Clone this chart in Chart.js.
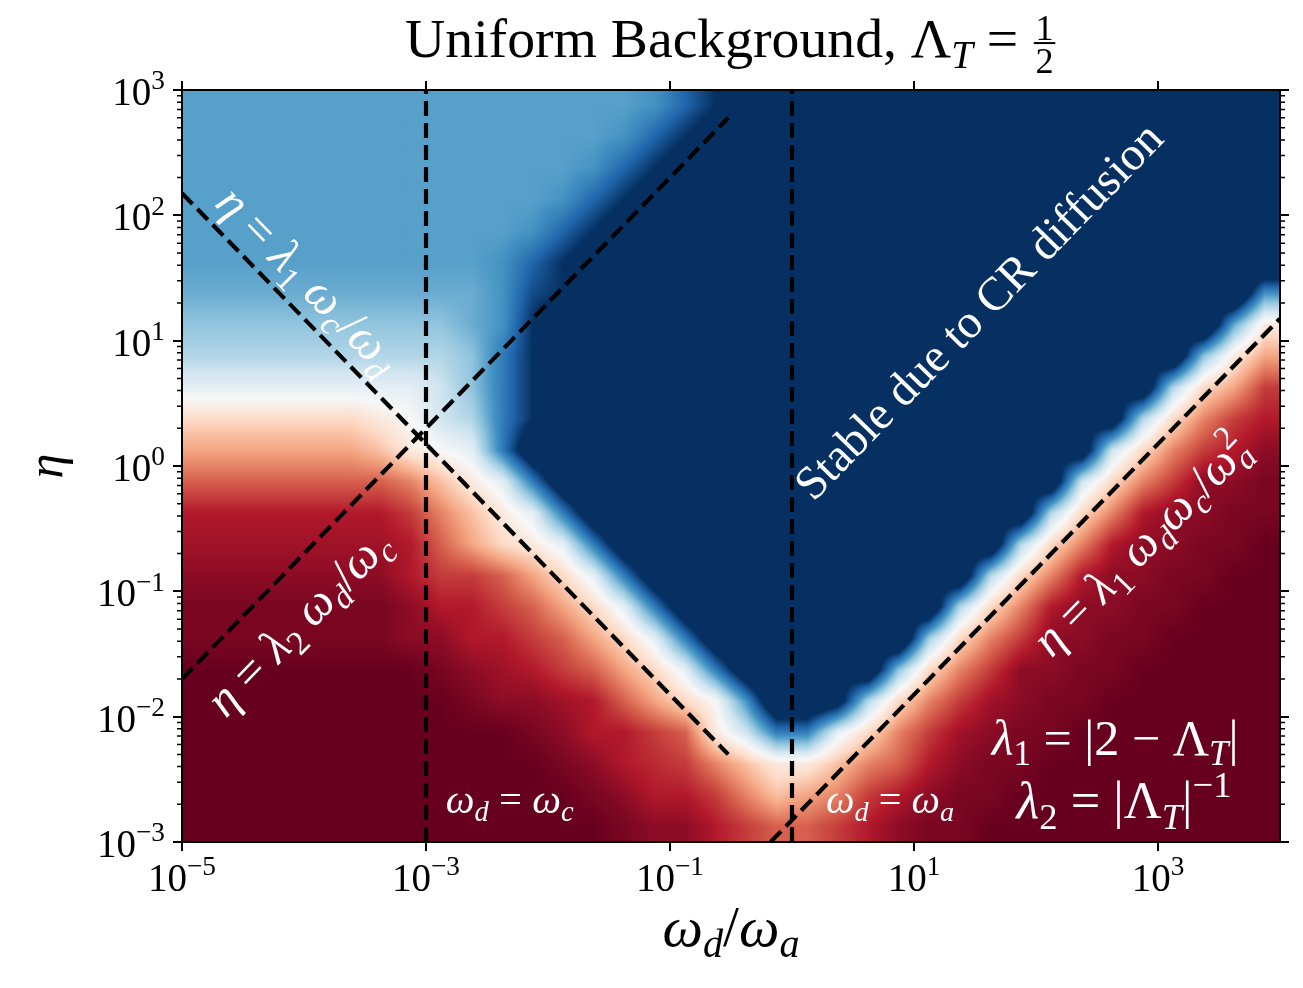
<!DOCTYPE html>
<html>
<head>
<meta charset="utf-8">
<title>Uniform Background</title>
<script src="https://cdn.jsdelivr.net/npm/chart.js@4.4.1/dist/chart.umd.min.js"></script>
<style>
  html, body { margin: 0; padding: 0; background: #fff; }
  #plot { display: block; }
</style>
</head>
<body>
<canvas id="plot" width="1303" height="988"></canvas>
<script>
// colour grid, quarter-decade cells, top row is eta = 1e3.
// A = deep red, K = white, U = deep blue; a lower-case letter is half a step above its capital.
// V..Z sit past the saturated blue, so the edge of the dark region falls where the figure has it.
// each row is run-length written: "15p" means fifteen cells of p
const gridX = [1e-5, 1e4];
const gridY = [1e-3, 1e3];
const levelRows = [
  '15p QSUW 17U',
  '14p QSUW 18U',
  '13p QSUW 19U',
  '12p QSUW 20U',
  '11p QSUW 21U',
  '10p QSUW 21U Z',
  '10P QTUW 20U ZQ',
  '9O PQUX 20U ZPJ',
  '9N ORUX 19U YOJG',
  '8L MORUX 18U xNIGD',
  '6I JKMNRUX 17U XNIFDC',
  '6G HJKLRXZ 16U XMIFDCB',
  '7E FHJLRXZ 14U xMIFDBBa',
  '7C DFHJLRXZ 12U YNIFCBBaa',
  '7b CEGIJLRXZ 10U YNIFCBBaaA',
  '7B CDDEGILRXZ 8U YNIFCBBaaAA',
  '7a BCCDEGILRXZ 6U YNIFCBBaa 3A',
  '7a BBCCDEGILRXZ 4U ZnIFDBBaa 4A',
  '8A aBbCDEGILRXZ 2U YOIFDBBaa 5A',
  '9A aBBbCEGIKQYYWNIFDbBaa 6A',
  '11A aBCCDEJMRRLIFDbBaa 7A',
  '12A aBCcDFHJJHFECBaa 8A',
  '13A aBCCDFHGFDCBaa 9A',
  '14A aBBCDEEDCBaa 10A'
];

const xTicks = [1e-5, 1e-3, 1e-1, 1e1, 1e3];
const xTickLabels = ['10^{−5}', '10^{−3}', '10^{−1}', '10^{1}', '10^{3}'];
const yTicks = [1e-3, 1e-2, 1e-1, 1, 1e1, 1e2, 1e3];
const yTickLabels = ['10^{−3}', '10^{−2}', '10^{−1}', '10^{0}', '10^{1}', '10^{2}', '10^{3}'];

// dashed guide lines, end points
const lineWc = [{x: 1e-3, y: 1e-3}, {x: 1e-3, y: 1e3}];
const lineWa = [{x: 1, y: 1e-3}, {x: 1, y: 1e3}];
const lineLam1 = [{x: 1e-5, y: 150}, {x: 0.3, y: 0.005}];
const lineLam2 = [{x: 1e-5, y: 0.02}, {x: 0.3, y: 600}];
const lineLam1Right = [{x: 0.667, y: 1e-3}, {x: 1e4, y: 15}];

const titleParts = [{s: 'Uniform Background, ', roman: true}, {s: 'Λ_T = '}];
const titleFrac = ['1', '2'];

const notes = [
  {s: 'η = λ_1 ω_c/ω_d', x: 10 ** -3.99, y: 10 ** 1.46, along: lineLam1, width: 240},
  {s: 'η = λ_2 ω_d/ω_c', x: 10 ** -4.02, y: 10 ** -1.27, along: lineLam2, width: 240},
  {s: [{s: 'Stable due to CR diffusion', roman: true}], x: 10 ** 1.555, y: 10 ** 1.213, along: lineLam1Right, width: 505},
  {s: 'η = λ_1 ω_dω_c/ω_a^2', x: 10 ** 2.886, y: 10 ** -0.654, along: lineLam1Right, width: 288},
  {s: 'ω_d = ω_c', x: 10 ** -2.314, y: 10 ** -2.769, width: 128},
  {s: 'ω_d = ω_a', x: 10 ** 0.804, y: 10 ** -2.769, width: 128},
  {s: 'λ_1 = |2 − Λ_T|', x: 10 ** 2.649, y: 10 ** -2.306, width: 247},
  {s: 'λ_2 = |Λ_T|^{−1}', x: 10 ** 2.722, y: 10 ** -2.809, width: 215}
];

const FONT = '"Liberation Serif", "DejaVu Serif", serif';

// matplotlib RdBu
const rdbu = [[103,0,31],[178,24,43],[214,96,77],[244,165,130],[253,219,199],[247,247,247],
              [209,229,240],[146,197,222],[67,147,195],[33,102,172],[5,48,97]];
function cmap(t) {
  t = Math.min(Math.max(t, 0), 1) * 10;
  const i = Math.min(Math.floor(t), 9), f = t - i;
  const a = rdbu[i], b = rdbu[i + 1];
  return [a[0] + (b[0] - a[0]) * f, a[1] + (b[1] - a[1]) * f, a[2] + (b[2] - a[2]) * f];
}
function levelOf(ch) {
  const up = ch.toUpperCase();
  return (up.charCodeAt(0) - 65 + (ch !== up ? 0.5 : 0)) / 20;
}
const decode = s => s.split(' ').map(t => {
  const m = t.match(/^(\d*)(.+)$/);
  return m[2].repeat(m[1] ? +m[1] : 1);
}).join('');
const levels = levelRows.map(r => Array.from(decode(r), levelOf));
levels.forEach((r, i) => { if (r.length !== levels[0].length) console.error('row', i, r.length); });

// ---- small math text helper: _x subscript, ^x superscript, {..} groups
function tokens(parts) {
  const out = [];
  for (const part of [].concat(parts)) {
    const s = typeof part === 'string' ? part : part.s;
    const roman = typeof part === 'string' ? false : !!part.roman;
    let i = 0;
    while (i < s.length) {
      let pos = 0, c = s[i];
      if (c === '_' || c === '^') {
        pos = c === '_' ? -1 : 1;
        i++;
        if (s[i] === '{') {
          const j = s.indexOf('}', i);
          for (const ch of s.slice(i + 1, j)) out.push({ch, pos, roman});
          i = j + 1;
          continue;
        }
        c = s[i];
      }
      out.push({ch: c, pos, roman});
      i++;
    }
  }
  return out;
}
function fontFor(t, size) {
  const sz = t.pos ? size * 0.7 : size;
  const it = !t.roman && /[a-zA-Zα-ω]/.test(t.ch);
  return (it ? 'italic ' : '') + sz.toFixed(2) + 'px ' + FONT;
}
function layout(ctx, toks, size) {
  const items = [];
  let cx = 0, prev = 0, subStart = 0, subEnd = 0, stacking = false;
  for (const t of toks) {
    if (t.pos === -1 && prev !== -1) subStart = cx;
    if (t.pos === 1 && prev === -1) { subEnd = cx; cx = subStart; stacking = true; }
    if (t.pos !== 1 && stacking) { cx = Math.max(cx, subEnd); stacking = false; }
    const font = fontFor(t, size);
    ctx.font = font;
    items.push({t, x: cx, font});
    cx += ctx.measureText(t.ch).width;
    prev = t.pos;
  }
  if (stacking) cx = Math.max(cx, subEnd);
  return {items, width: cx};
}
function drawMath(ctx, parts, x, y, o = {}) {
  const toks = tokens(parts);
  let size = o.size || 32;
  if (o.width) size *= o.width / layout(ctx, toks, size).width;
  const lay = layout(ctx, toks, size);
  ctx.save();
  ctx.translate(x, y);
  ctx.rotate((o.angle || 0) * Math.PI / 180);
  ctx.fillStyle = o.color || '#000';
  ctx.textAlign = 'left';
  ctx.textBaseline = 'alphabetic';
  const x0 = o.align === 'right' ? -lay.width : o.align === 'left' ? 0 : -lay.width / 2;
  const base = (o.shift || 0) * size;
  for (const it of lay.items) {
    ctx.font = it.font;
    const dy = it.t.pos < 0 ? 0.2 * size : it.t.pos > 0 ? -0.4 * size : 0;
    ctx.fillText(it.t.ch, x0 + it.x, base + dy);
  }
  ctx.restore();
  return size;
}
function drawTitle(ctx, cx, base, width) {
  const toks = tokens(titleParts);
  const fracW = s => {
    ctx.font = (0.65 * s).toFixed(2) + 'px ' + FONT;
    return Math.max(...titleFrac.map(t => ctx.measureText(t).width)) + 0.12 * s;
  };
  let size = 50;
  size *= width / (layout(ctx, toks, size).width + fracW(size));
  const tw = layout(ctx, toks, size).width, fw = fracW(size);
  const left = cx - (tw + fw) / 2;
  drawMath(ctx, titleParts, left, base, {size, align: 'left'});
  const fx = left + tw + fw / 2;
  ctx.save();
  ctx.fillStyle = '#000';
  ctx.textAlign = 'center';
  ctx.textBaseline = 'alphabetic';
  ctx.font = (0.65 * size).toFixed(2) + 'px ' + FONT;
  ctx.fillText(titleFrac[0], fx, base - 0.31 * size);
  ctx.fillText(titleFrac[1], fx, base + 0.29 * size);
  ctx.fillRect(fx - fw / 2 + 0.03 * size, base - 0.25 * size - 1, fw - 0.06 * size, 2);
  ctx.restore();
}

// ---- colour grid, smoothed between cell centres, placed with the chart scales
const heatmap = {
  id: 'heatmap',
  beforeDraw(chart) {
    const {ctx, scales: {x, y}} = chart;
    ctx.save();
    ctx.fillStyle = '#fff';
    ctx.fillRect(0, 0, chart.width, chart.height);
    const left = x.getPixelForValue(gridX[0]), right = x.getPixelForValue(gridX[1]);
    const top = y.getPixelForValue(gridY[1]), bottom = y.getPixelForValue(gridY[0]);
    const w = Math.round(right - left), h = Math.round(bottom - top);
    const nr = levels.length, nc = levels[0].length;
    const off = document.createElement('canvas');
    off.width = w; off.height = h;
    const octx = off.getContext('2d');
    const img = octx.createImageData(w, h);
    for (let py = 0; py < h; py++) {
      const fy = Math.min(Math.max((py + 0.5) / h * nr - 0.5, 0), nr - 1);
      const r0 = Math.floor(fy), r1 = Math.min(r0 + 1, nr - 1), ty = fy - r0;
      for (let px = 0; px < w; px++) {
        const fx = Math.min(Math.max((px + 0.5) / w * nc - 0.5, 0), nc - 1);
        const c0 = Math.floor(fx), c1 = Math.min(c0 + 1, nc - 1), tx = fx - c0;
        const v = (levels[r0][c0] * (1 - tx) + levels[r0][c1] * tx) * (1 - ty) +
                  (levels[r1][c0] * (1 - tx) + levels[r1][c1] * tx) * ty;
        const c = cmap(v), k = (py * w + px) * 4;
        img.data[k] = c[0]; img.data[k + 1] = c[1]; img.data[k + 2] = c[2]; img.data[k + 3] = 255;
      }
    }
    octx.putImageData(img, 0, 0);
    ctx.drawImage(off, left, top, right - left, bottom - top);
    ctx.restore();
  }
};

const texts = {
  id: 'texts',
  afterDraw(chart) {
    const {ctx, chartArea: a, scales: {x, y}} = chart;
    const px = v => x.getPixelForValue(v), py = v => y.getPixelForValue(v);
    const angleOf = p => Math.atan2(py(p[1].y) - py(p[0].y), px(p[1].x) - px(p[0].x)) * 180 / Math.PI;

    // minor ticks on both eta axes
    ctx.save();
    ctx.strokeStyle = '#000';
    ctx.lineWidth = 1.5;
    ctx.beginPath();
    for (let e = -3; e < 3; e++) {
      for (let k = 2; k < 10; k++) {
        const yy = py(k * 10 ** e);
        ctx.moveTo(a.left - 5, yy); ctx.lineTo(a.left, yy);
        ctx.moveTo(a.right, yy); ctx.lineTo(a.right + 5, yy);
      }
    }
    ctx.stroke();
    ctx.restore();

    xTicks.forEach((v, i) => drawMath(ctx, xTickLabels[i], px(v), a.bottom + 49, {size: 39}));
    yTicks.forEach((v, i) => drawMath(ctx, yTickLabels[i], a.left - 17, py(v) + 15, {size: 39, align: 'right'}));

    drawMath(ctx, 'ω_d/ω_a', (a.left + a.right) / 2, a.bottom + 104, {width: 137});
    drawMath(ctx, 'η', a.left - 126, (a.top + a.bottom) / 2, {size: 50, angle: -90, shift: 0.12});
    drawTitle(ctx, (a.left + a.right) / 2, a.top - 33, 652);

    for (const n of notes) {
      drawMath(ctx, n.s, px(n.x), py(n.y), {
        width: n.width, color: '#fff',
        angle: n.along ? angleOf(n.along) : 0,
        shift: n.along ? 0.23 : 0
      });
    }
  }
};

function logAxis(position, min, max, ticks, isX) {
  return {
    type: 'logarithmic',
    position,
    min, max,
    afterBuildTicks: s => { s.ticks = ticks.map(v => ({value: v})); },
    afterFit: s => { if (isX) s.height = 9; else s.width = 9; },
    ticks: {display: false},
    grid: {drawOnChartArea: false, drawTicks: true, tickLength: 9, color: '#000', lineWidth: 2},
    border: {display: true, color: '#000', width: 2}
  };
}

const guide = data => ({
  data,
  showLine: true,
  borderColor: '#000',
  borderWidth: 4.2,
  borderDash: [15, 7],
  pointRadius: 0,
  fill: false
});

new Chart(document.getElementById('plot').getContext('2d'), {
  type: 'scatter',
  data: {
    datasets: [lineWc, lineWa, lineLam1, lineLam2, lineLam1Right].map(guide)
  },
  options: {
    responsive: false,
    animation: false,
    layout: {padding: {left: 173, top: 81, right: 14, bottom: 137}},
    plugins: {legend: {display: false}, tooltip: {enabled: false}},
    scales: {
      x: logAxis('bottom', gridX[0], gridX[1], xTicks, true),
      xTop: logAxis('top', gridX[0], gridX[1], xTicks, true),
      y: logAxis('left', gridY[0], gridY[1], yTicks, false),
      yRight: logAxis('right', gridY[0], gridY[1], yTicks, false)
    }
  },
  plugins: [heatmap, texts]
});
</script>
</body>
</html>
